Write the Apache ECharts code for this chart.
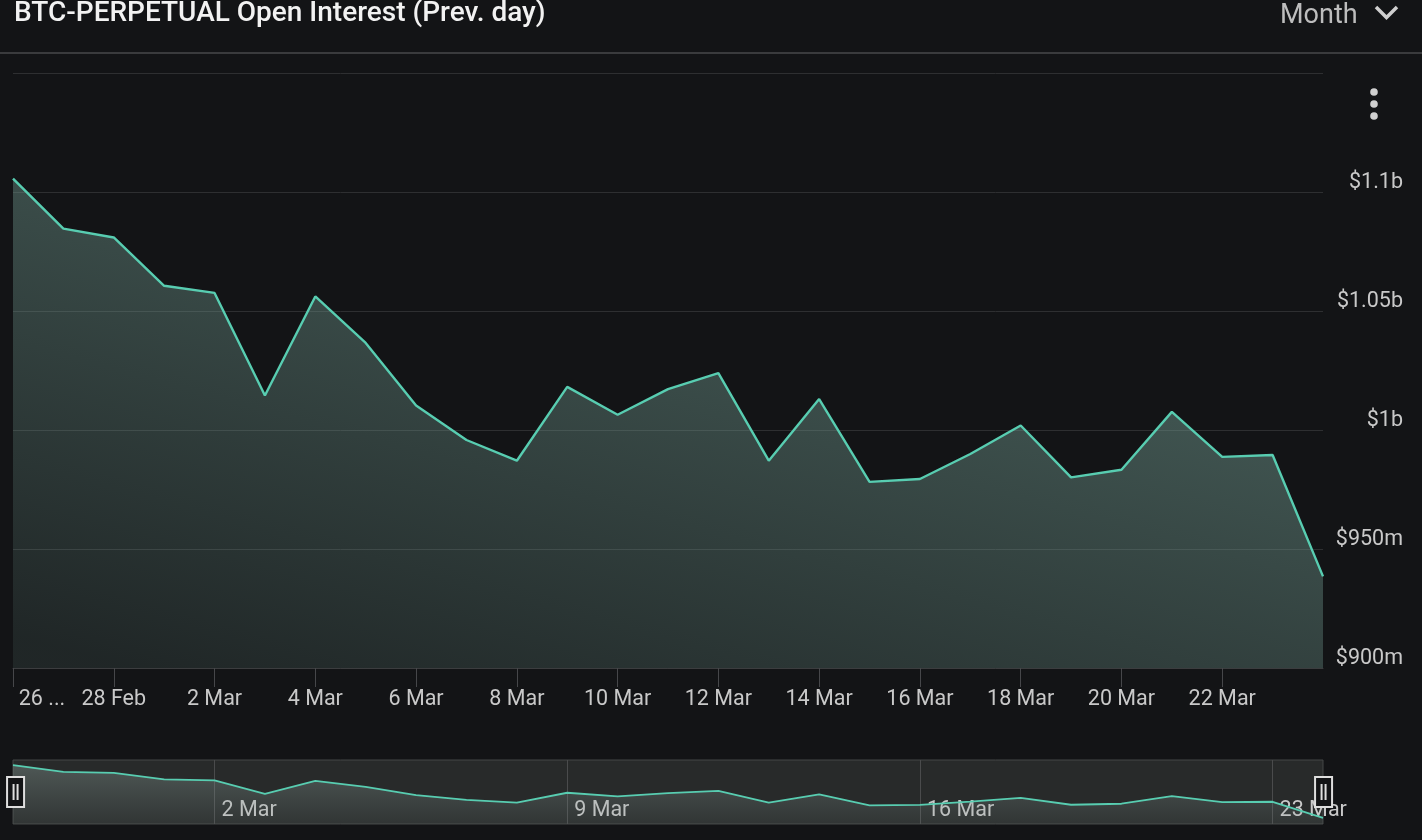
<!DOCTYPE html>
<html>
<head>
<meta charset="utf-8">
<script src="https://cdn.jsdelivr.net/npm/echarts@6/dist/echarts.min.js"></script>
<style>
  html, body { margin: 0; padding: 0; background: #131416; }
  #chart { width: 1422px; height: 840px; }
</style>
</head>
<body>
<div id="chart"></div>
<script>
const dates = ['26 Feb','27 Feb','28 Feb','1 Mar','2 Mar','3 Mar','4 Mar','5 Mar','6 Mar','7 Mar','8 Mar','9 Mar','10 Mar','11 Mar','12 Mar','13 Mar','14 Mar','15 Mar','16 Mar','17 Mar','18 Mar','19 Mar','20 Mar','21 Mar','22 Mar','23 Mar','24 Mar'];
// open interest, millions USD
const openInterest = [1105.6,1084.6,1080.9,1060.6,1057.6,1014.5,1056.1,1036.6,1010.3,995.8,987.1,1018.1,1006.4,1017.2,1023.9,987.1,1013.0,978.2,979.4,989.9,1001.9,980.1,983.3,1007.6,988.7,989.5,938.5];
const yMin = 900, yMax = 1150, yStep = 50;
const miniMin = 919, miniMax = 1122;
const titleText = 'BTC-PERPETUAL Open Interest (Prev. day)';
const periodText = 'Month';

const chart = echarts.init(document.getElementById('chart'));
const labelColor = '#c9c9c9';
const fontFamily = 'Roboto, sans-serif';
const fs = 21.5;

function fmtMoney(v) {
  if (v >= 1000) return '$' + (+(v / 1000).toFixed(3)) + 'b';
  return '$' + v + 'm';
}

const option = {
  backgroundColor: '#131416',
  animation: false,
  graphic: [
    { type: 'text', left: 14, top: 0, style: { text: titleText, fill: '#f2f2f2', font: '500 28px Roboto, sans-serif' } },
    { type: 'text', left: 1280, top: 3, style: { text: periodText, fill: '#bdbdbd', font: '27px Roboto, sans-serif' } },
    { type: 'polyline', shape: { points: [[1376, 7], [1386.5, 17.5], [1397, 7]] }, style: { stroke: '#cfcfcf', lineWidth: 3.5, fill: null } },
    { type: 'rect', shape: { x: 0, y: 52, width: 1422, height: 2 }, style: { fill: '#3a3b3d' } },
    { type: 'circle', shape: { cx: 1374, cy: 92, r: 3.8 }, style: { fill: '#d0d0d0' } },
    { type: 'circle', shape: { cx: 1374, cy: 104, r: 3.8 }, style: { fill: '#d0d0d0' } },
    { type: 'circle', shape: { cx: 1374, cy: 116, r: 3.8 }, style: { fill: '#d0d0d0' } }
  ],
  grid: [
    { left: 13, right: 99, top: 73, height: 595, containLabel: false },
    { left: 13, right: 99, top: 760, height: 64, show: true, backgroundColor: '#282a2a', borderColor: '#454647', borderWidth: 1 }
  ],
  xAxis: [
    {
      type: 'category', gridIndex: 0, data: dates, boundaryGap: false,
      axisLine: { show: true, lineStyle: { color: '#3c3d3f', width: 1 } },
      axisTick: { show: true, length: 19, interval: (i) => i % 2 === 0 && i < dates.length - 1, lineStyle: { color: '#46474a' } },
      axisLabel: {
        color: labelColor, fontSize: fs, fontFamily, margin: 21,
        interval: (i) => i % 2 === 0 && i < dates.length - 1,
        formatter: (v, i) => i === 0 ? '{first|' + v.split(' ')[0] + ' ...}' : v,
        rich: { first: { color: labelColor, fontSize: fs, fontFamily, padding: [0, 0, 0, 58] } }
      },
      splitLine: { show: false }
    },
    {
      type: 'category', gridIndex: 1, data: dates, boundaryGap: false,
      axisLine: { show: false }, axisTick: { show: false },
      axisLabel: {
        inside: true, color: labelColor, fontSize: fs, fontFamily, margin: 2,
        align: 'left', padding: [0, 0, 0, 7],
        interval: (i) => (i - 4) % 7 === 0 && i >= 4
      },
      splitLine: { show: true, interval: (i) => (i - 4) % 7 === 0 && i >= 4, lineStyle: { color: '#4a4b4c', width: 1 } }
    }
  ],
  yAxis: [
    {
      type: 'value', gridIndex: 0, position: 'right', min: yMin, max: yMax, interval: yStep,
      axisLine: { show: false }, axisTick: { show: false },
      axisLabel: {
        color: labelColor, fontSize: fs, fontFamily, align: 'right', verticalAlign: 'bottom', margin: 80,
        lineHeight: 18,
        showMaxLabel: false, formatter: fmtMoney
      },
      splitLine: { show: true, lineStyle: { color: '#2e2f31', width: 1 } }
    },
    {
      type: 'value', gridIndex: 1, min: miniMin, max: miniMax, show: false,
      splitLine: { show: false }
    }
  ],
  dataZoom: [
    {
      type: 'slider', xAxisIndex: [0], start: 0, end: 100,
      left: 13, right: 99, top: 760, height: 64,
      showDataShadow: false, showDetail: false, brushSelect: false,
      moveHandleSize: 0,
      backgroundColor: 'rgba(0,0,0,0)', fillerColor: 'rgba(0,0,0,0)', borderColor: 'rgba(0,0,0,0)',
      handleIcon: 'path://M0,0H17V30H0Z M6.5,7V23 M10.5,7V23',
      handleSize: 30,
      handleStyle: { color: '#131416', borderColor: '#dedede', borderWidth: 2 },
      emphasis: { handleStyle: { color: '#131416', borderColor: '#ffffff', borderWidth: 2 } }
    }
  ],
  series: [
    {
      type: 'line', xAxisIndex: 0, yAxisIndex: 0, data: openInterest,
      showSymbol: false, symbol: 'none', smooth: false,
      lineStyle: { color: '#58cdb1', width: 2.4 },
      areaStyle: {
        origin: 'start', opacity: 1,
        color: new echarts.graphic.LinearGradient(400, 150, 250, 700, [
          { offset: 0, color: 'rgba(110,150,140,0.52)' },
          { offset: 1, color: 'rgba(110,150,140,0.14)' }
        ], true)
      }
    },
    {
      type: 'line', xAxisIndex: 1, yAxisIndex: 1, data: openInterest,
      showSymbol: false, symbol: 'none', smooth: false,
      lineStyle: { color: '#58cdb1', width: 1.8 },
      areaStyle: {
        origin: 'start', opacity: 1,
        color: new echarts.graphic.LinearGradient(0, 0, 0, 1, [
          { offset: 0, color: 'rgba(130,150,145,0.42)' },
          { offset: 1, color: 'rgba(130,150,145,0.1)' }
        ])
      }
    }
  ]
};
chart.setOption(option);
</script>
</body>
</html>
